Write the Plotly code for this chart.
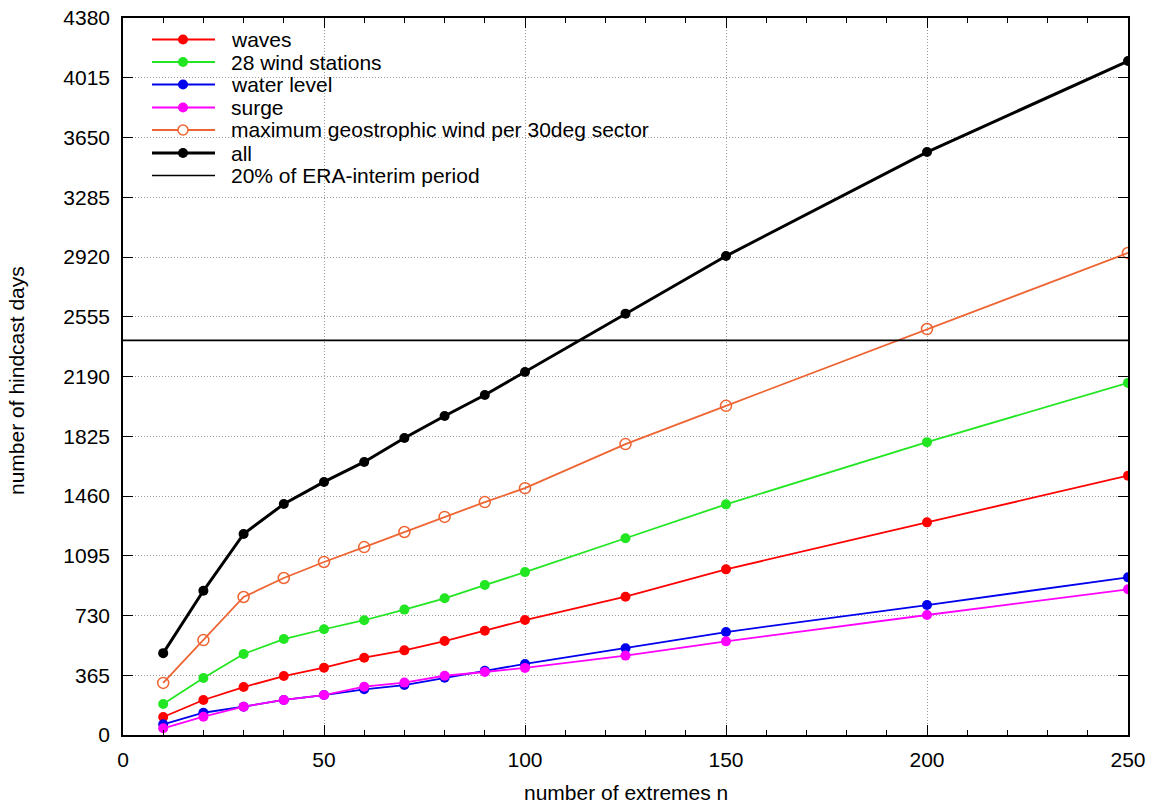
import plotly.graph_objects as go

# ---------------- data ----------------
n_extremes = [10, 20, 30, 40, 50, 60, 70, 80, 90, 100, 125, 150, 200, 250]
waves = [110, 214, 293, 360, 411, 472, 517, 574, 637, 702, 845, 1012, 1299, 1584]
wind_stations = [189, 348, 495, 586, 646, 701, 766, 835, 916, 995, 1202, 1409, 1789, 2151]
water_level = [65, 136, 173, 214, 244, 279, 305, 350, 392, 434, 530, 629, 794, 963]
surge = [41, 112, 173, 214, 244, 295, 320, 362, 385, 410, 485, 572, 733, 890]
geostrophic = [318, 580, 843, 959, 1057, 1148, 1240, 1332, 1423, 1508, 1777, 2011, 2480, 2945]
all_days = [500, 881, 1228, 1411, 1546, 1668, 1814, 1949, 2077, 2218, 2574, 2926, 3561, 4117]
era_interim_20pct = 2411

series_names = [
    "waves",
    "28 wind stations",
    "water level",
    "surge",
    "maximum geostrophic wind per 30deg sector",
    "all",
    "20% of ERA-interim period",
]
x_range = [0, 250]
y_range = [0, 4380]
y_tick_step = 365
x_tick_step = 50
x_minor_step = 10

# ---------------- styles ----------------
colors = ["#ff0000", "#22e622", "#0000ee", "#ff00ff", "#ee6432", "#000000", "#000000"]
line_widths = [1.8, 1.8, 1.8, 1.8, 1.8, 3.0, 1.7]
FONT = "Liberation Sans, Arial, sans-serif"

W, H = 1153, 805
L, R, T, B = 123, 25, 18, 70
PW, PH = W - L - R, H - T - B


def pxx(px):
    return (px - L) / PW


def pxy(py):
    return 1 - (py - T) / PH


fig = go.Figure()

series = [waves, wind_stations, water_level, surge, geostrophic, all_days]
for i, ys in enumerate(series):
    open_marker = i == 4
    fig.add_trace(go.Scatter(
        x=n_extremes, y=ys, mode="lines+markers", name=series_names[i],
        showlegend=False,
        line=dict(color=colors[i], width=line_widths[i]),
        marker=dict(
            symbol="circle-open" if open_marker else "circle",
            size=11 if open_marker else 10,
            color=colors[i],
            line=dict(width=1.5 if open_marker else 0, color=colors[i]),
        ),
    ))

fig.add_trace(go.Scatter(
    x=x_range, y=[era_interim_20pct] * len(x_range), mode="lines",
    name=series_names[6], showlegend=False,
    line=dict(color=colors[6], width=line_widths[6]),
))

# ---------------- legend (gnuplot-style key) ----------------
shapes = [dict(type="rect", xref="paper", yref="paper", x0=0.002, x1=pxx(790),
               y0=pxy(190), y1=0.998, fillcolor="white", line=dict(width=0),
               layer="between")]
annotations = []
row_y = [39.5, 62, 84.5, 107.5, 130, 153, 175.5]
for i, name in enumerate(series_names):
    yp = pxy(row_y[i])
    shapes.append(dict(type="line", xref="paper", yref="paper",
                       x0=pxx(152), x1=pxx(215), y0=yp, y1=yp,
                       line=dict(color=colors[i], width=line_widths[i])))
    if i < 6:
        open_marker = i == 4
        shapes.append(dict(type="circle", xref="paper", yref="paper",
                           xsizemode="pixel", ysizemode="pixel",
                           xanchor=pxx(183), yanchor=yp,
                           x0=-5, x1=5, y0=-5, y1=5,
                           fillcolor="white" if open_marker else colors[i],
                           line=dict(color=colors[i], width=1.5 if open_marker else 0)))
    annotations.append(dict(text=name, xref="paper", yref="paper",
                            x=pxx(229), y=yp, xanchor="left", yanchor="middle",
                            showarrow=False, font=dict(family=FONT, size=21, color="black")))

# axis titles
annotations.append(dict(text="number of extremes n", xref="paper", yref="paper",
                        x=pxx(626), y=pxy(792), xanchor="center", yanchor="middle",
                        showarrow=False, font=dict(family=FONT, size=21, color="black")))
annotations.append(dict(text="number of hindcast days", xref="paper", yref="paper",
                        x=pxx(16), y=pxy(381), xanchor="center", yanchor="middle",
                        textangle=-90, showarrow=False,
                        font=dict(family=FONT, size=21, color="black")))

axis_common = dict(
    showline=True, linecolor="black", linewidth=1.5, mirror="ticks",
    ticks="inside", ticklen=10, tickwidth=1.2, tickcolor="black",
    showgrid=True, gridcolor="#9a9a9a", gridwidth=1, griddash="1px,2px",
    zeroline=False, automargin=False,
    tickfont=dict(family=FONT, size=21, color="black"),
)

fig.update_layout(
    width=W, height=H, margin=dict(l=L, r=R, t=T, b=B, pad=0, autoexpand=False),
    paper_bgcolor="white", plot_bgcolor="white",
    font=dict(family=FONT, color="black"),
    xaxis=dict(range=x_range, tick0=0, dtick=x_tick_step, ticklabelstandoff=5,
               minor=dict(dtick=x_minor_step, ticks="inside", ticklen=5,
                          tickcolor="black", tickwidth=1.2, showgrid=False),
               **axis_common),
    yaxis=dict(range=y_range, tick0=0, dtick=y_tick_step, ticklabelstandoff=7,
               **axis_common),
    shapes=shapes, annotations=annotations, showlegend=False,
)

fig.write_html("out.html", config={"displayModeBar": False},
               post_script="document.body.style.margin='0';")
